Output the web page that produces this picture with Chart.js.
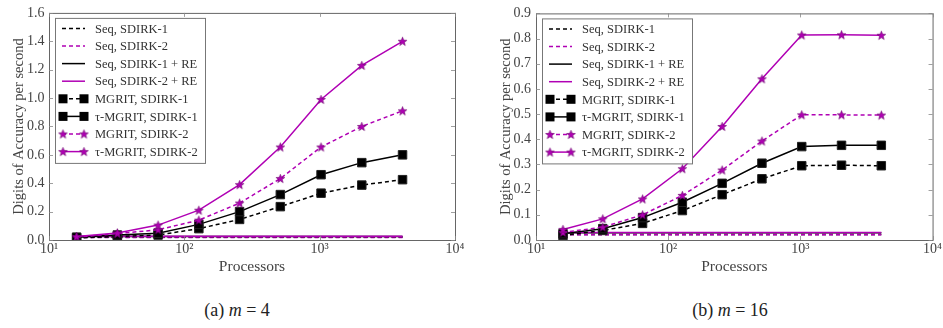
<!DOCTYPE html>
<html>
<head>
<meta charset="utf-8">
<script src="https://cdn.jsdelivr.net/npm/chart.js@4/dist/chart.umd.min.js"></script>
<style>
  body { margin: 0; background: #fff; }
  #wrap { position: relative; width: 943px; height: 328px; overflow: hidden; }
  .box { position: absolute; top: 0; height: 285px; }
  .cap { position: absolute; top: 300px; width: 200px; text-align: center;
         font-family: "Liberation Serif", serif; font-size: 18px; color: #222; }
</style>
</head>
<body>
<div id="wrap">
  <div class="box" style="left:0;width:470px"><canvas id="c1" width="470" height="285"></canvas></div>
  <div class="box" style="left:487px;width:456px"><canvas id="c2" width="456" height="285"></canvas></div>
  <div class="cap" style="left:137px">(a) <i>m</i> = 4</div>
  <div class="cap" style="left:630px">(b) <i>m</i> = 16</div>
</div>
<script>
// x values (processors) and tick labels
const processors = [16, 32, 64, 128, 256, 512, 1024, 2048, 4096];
const xTicks = [10, 100, 1000, 10000];
const xTickLabels = ['10¹', '10²', '10³', '10⁴'];
const seriesNames = ['Seq, SDIRK-1', 'Seq, SDIRK-2', 'Seq, SDIRK-1 + RE', 'Seq, SDIRK-2 + RE',
  'MGRIT, SDIRK-1', 'τ-MGRIT, SDIRK-1', 'MGRIT, SDIRK-2', 'τ-MGRIT, SDIRK-2'];

// m = 4
const m4SeqS1   = [0.020, 0.020, 0.020, 0.020, 0.020, 0.020, 0.020, 0.020, 0.020];
const m4SeqS2   = [0.018, 0.018, 0.018, 0.018, 0.018, 0.018, 0.018, 0.018, 0.018];
const m4SeqS1RE = [0.025, 0.025, 0.025, 0.025, 0.025, 0.025, 0.025, 0.025, 0.025];
const m4SeqS2RE = [0.027, 0.027, 0.027, 0.027, 0.027, 0.027, 0.027, 0.027, 0.027];
const m4MgS1    = [0.015, 0.025, 0.035, 0.080, 0.145, 0.235, 0.330, 0.387, 0.425];
const m4TauS1   = [0.020, 0.035, 0.048, 0.110, 0.200, 0.320, 0.460, 0.545, 0.600];
const m4MgS2    = [0.020, 0.045, 0.072, 0.140, 0.260, 0.433, 0.655, 0.800, 0.910];
const m4TauS2   = [0.025, 0.050, 0.105, 0.210, 0.390, 0.655, 0.990, 1.230, 1.400];

// m = 16
const m16SeqS1   = [0.022, 0.022, 0.022, 0.022, 0.022, 0.022, 0.022, 0.022, 0.022];
const m16SeqS2   = [0.021, 0.021, 0.021, 0.021, 0.021, 0.021, 0.021, 0.021, 0.021];
const m16SeqS1RE = [0.029, 0.029, 0.029, 0.029, 0.029, 0.029, 0.029, 0.029, 0.029];
const m16SeqS2RE = [0.030, 0.030, 0.030, 0.030, 0.030, 0.030, 0.030, 0.030, 0.030];
const m16MgS1    = [0.018, 0.038, 0.066, 0.117, 0.180, 0.243, 0.295, 0.297, 0.295];
const m16TauS1   = [0.025, 0.045, 0.089, 0.150, 0.225, 0.305, 0.371, 0.376, 0.376];
const m16MgS2    = [0.030, 0.051, 0.100, 0.177, 0.278, 0.393, 0.497, 0.497, 0.496];
const m16TauS2   = [0.042, 0.084, 0.163, 0.283, 0.451, 0.640, 0.814, 0.815, 0.813];

const MAG = '#b000b4';
const FONT = '"Liberation Serif", serif';

// filled 5-point star for the SDIRK-2 markers
const star = document.createElement('canvas');
star.width = 11; star.height = 11;
(function () {
  const g = star.getContext('2d');
  g.beginPath();
  for (let i = 0; i < 10; i++) {
    const r = i % 2 ? 1.9 : 4.6;
    const a = -Math.PI / 2 + i * Math.PI / 5;
    g.lineTo(5.5 + r * Math.cos(a), 5.9 + r * Math.sin(a));
  }
  g.closePath();
  g.fillStyle = MAG; g.fill();
  g.strokeStyle = '#6a006c'; g.lineWidth = 0.6; g.stroke();
})();

// style of each series: colour, dash, marker
const styles = [
  { color: '#000', dash: [4, 3], mark: null },
  { color: MAG, dash: [4, 3], mark: null },
  { color: '#000', dash: [], mark: null },
  { color: MAG, dash: [], mark: null },
  { color: '#000', dash: [4, 3], mark: 'sq' },
  { color: '#000', dash: [], mark: 'sq' },
  { color: MAG, dash: [4, 3], mark: 'star' },
  { color: MAG, dash: [], mark: 'star' }
];

function makeSets(series) {
  return series.map((vals, i) => {
    const s = styles[i];
    return {
      label: seriesNames[i],
      data: processors.map((p, k) => ({ x: p, y: vals[k] })),
      borderColor: s.color,
      borderDash: s.dash,
      borderWidth: 1.5,
      pointStyle: s.mark === 'star' ? star : 'rect',
      pointRadius: s.mark ? 6 : 0,
      pointBackgroundColor: '#000',
      pointBorderColor: '#222',
      pointBorderWidth: 1,
      tension: 0,
      order: 7 - i
    };
  });
}

// frame, inward ticks and legend box inside the plot
const framePlugin = {
  id: 'frame',
  afterDraw(chart) {
    const { ctx, chartArea: a, scales } = chart;
    ctx.save();
    ctx.strokeStyle = '#666';
    ctx.lineWidth = 1;
    ctx.strokeRect(a.left + 0.5, a.top + 0.5, a.right - a.left, a.bottom - a.top);
    ctx.strokeStyle = '#888';
    ctx.lineWidth = 0.8;
    scales.y.ticks.forEach(t => {
      const y = Math.round(scales.y.getPixelForValue(t.value)) + 0.5;
      ctx.beginPath();
      ctx.moveTo(a.left, y); ctx.lineTo(a.left + 4, y);
      ctx.moveTo(a.right, y); ctx.lineTo(a.right - 4, y);
      ctx.stroke();
    });
    scales.x.ticks.forEach(t => {
      const x = Math.round(scales.x.getPixelForValue(t.value)) + 0.5;
      ctx.beginPath();
      ctx.moveTo(x, a.bottom); ctx.lineTo(x, a.bottom - 4);
      ctx.moveTo(x, a.top); ctx.lineTo(x, a.top + 4);
      ctx.stroke();
    });

    // legend
    const bx = a.left + 6, by = a.top + 5;
    ctx.fillStyle = '#fff';
    ctx.fillRect(bx, by, 150, 145);
    ctx.strokeStyle = '#777';
    ctx.lineWidth = 1;
    ctx.strokeRect(bx + 0.5, by + 0.5, 150, 145);
    ctx.font = '12.5px ' + FONT;
    ctx.textBaseline = 'middle';
    chart.data.datasets.forEach((ds, i) => {
      const y = by + 10.5 + i * 17.6;
      const s = styles[i];
      ctx.strokeStyle = s.color;
      ctx.setLineDash(s.dash);
      ctx.lineWidth = 1.5;
      ctx.beginPath();
      ctx.moveTo(bx + 7, y); ctx.lineTo(bx + 30, y);
      ctx.stroke();
      ctx.setLineDash([]);
      [bx + 8, bx + 29].forEach(mx => {
        if (s.mark === 'sq') {
          ctx.fillStyle = '#000';
          ctx.fillRect(mx - 4.5, y - 4.5, 9, 9);
        } else if (s.mark === 'star') {
          ctx.drawImage(star, mx - 5.5, y - 5.5);
        }
      });
      ctx.fillStyle = '#333';
      ctx.fillText(ds.label, bx + 40, y + 1);
    });
    ctx.restore();
  }
};

function makeChart(id, series, yMax, yStep, padRight, yPad) {
  return new Chart(document.getElementById(id), {
    type: 'line',
    data: { datasets: makeSets(series) },
    options: {
      responsive: false,
      animation: false,
      devicePixelRatio: 1,
      layout: { padding: { left: 0, top: 12, right: padRight, bottom: 0 } },
      plugins: { legend: { display: false }, tooltip: { enabled: false } },
      scales: {
        x: {
          type: 'logarithmic',
          min: 10, max: 10000,
          afterBuildTicks: sc => { sc.ticks = xTicks.map(v => ({ value: v })); },
          afterFit: sc => { sc.height = 45; },
          grid: { display: false, drawTicks: false },
          border: { display: false },
          ticks: {
            color: '#444', padding: 1, maxRotation: 0, autoSkip: false,
            font: { family: FONT, size: 14 },
            callback: v => xTickLabels[xTicks.indexOf(v)]
          },
          title: {
            display: true, text: 'Processors', color: '#444',
            font: { family: FONT, size: 15.5 }, padding: { top: 4, bottom: 9 }
          }
        },
        y: {
          min: 0, max: yMax,
          afterFit: sc => { sc.width = 49; },
          grid: { display: false, drawTicks: false },
          border: { display: false },
          ticks: {
            stepSize: yStep, color: '#444', padding: yPad,
            font: { family: FONT, size: 14 },
            callback: v => v.toFixed(1)
          },
          title: {
            display: true, text: 'Digits of Accuracy per second', color: '#444',
            font: { family: FONT, size: 14.5 }, padding: { top: 10, bottom: 0 }
          }
        }
      }
    },
    plugins: [framePlugin]
  });
}

makeChart('c1', [m4SeqS1, m4SeqS2, m4SeqS1RE, m4SeqS2RE, m4MgS1, m4TauS1, m4MgS2, m4TauS2], 1.6, 0.2, 15, 4.5);
makeChart('c2', [m16SeqS1, m16SeqS2, m16SeqS1RE, m16SeqS2RE, m16MgS1, m16TauS1, m16MgS2, m16TauS2], 0.9, 0.1, 1, 5);
</script>
</body>
</html>
